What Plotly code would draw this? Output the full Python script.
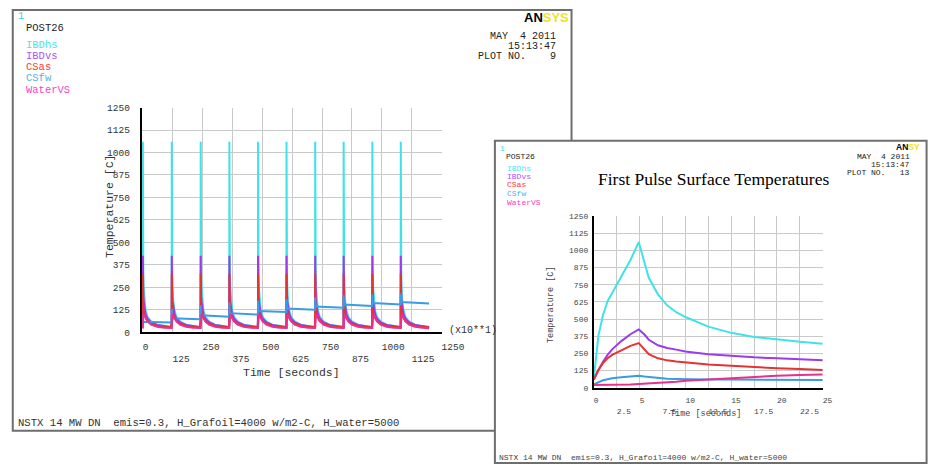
import plotly.graph_objects as go

W, H = 936, 472

# ---------------- data ----------------
series_names = ["IBDhs", "IBDvs", "CSas", "CSfw", "WaterVS"]

# first pulse (right panel), time in seconds
first_t = [0, 0.25, 0.5, 1, 1.5, 2, 3, 4, 4.9, 5.5, 6, 7, 8, 9, 10, 12.5, 15, 17.5, 20, 22.5, 25]
ibdhs_1 = [70, 250, 380, 530, 630, 690, 810, 930, 1060, 920, 800, 680, 600, 550, 515, 445, 400, 370, 350, 335, 320]
ibdvs_1 = [60, 100, 130, 190, 240, 280, 340, 390, 425, 390, 350, 310, 290, 278, 265, 245, 232, 222, 215, 208, 200]
csas_1 = [60, 100, 130, 180, 215, 240, 275, 305, 325, 280, 245, 215, 200, 192, 185, 170, 160, 150, 143, 137, 130]
csfw_1 = [25, 32, 40, 55, 63, 70, 78, 83, 88, 82, 78, 70, 66, 64, 62, 60, 60, 59, 58, 58, 58]
watervs_1 = [20, 20, 20, 21, 21, 22, 23, 25, 28, 30, 32, 35, 40, 45, 52, 62, 72, 80, 88, 94, 98]

# ten pulses (left panel), time in units of 10 s
pulse_start = [0, 121, 242, 362, 482, 601, 721, 840, 960, 1079]
tail_dt = [4, 7, 12, 20, 35, 60, 90, 119]
ibdhs_tail = [250, 170, 120, 85, 60, 42, 34, 30]
ibdvs_tail = [170, 130, 100, 75, 55, 40, 32, 28]
csas_tail = [115, 95, 78, 62, 48, 36, 30, 26]
watervs_tail = [100, 95, 80, 60, 42, 30, 25, 22]

# CSfw in the left panel, per pulse at dt = 0, 0.5, 2.5, 119
csfw_dt = [0, 0.5, 2.5, 119]
csfw_seg_start = [25, 54, 72, 86, 98, 112, 125, 136, 146, 154]
csfw_seg_peak = [88, 130, 150, 165, 175, 185, 195, 205, 210, 215]
csfw_seg_after = [58, 78, 94, 106, 118, 132, 143, 154, 162, 168]
csfw_seg_end = [54, 72, 86, 98, 112, 125, 136, 146, 154, 160]

left_ticks = [0, 125, 250, 375, 500, 625, 750, 875, 1000, 1125, 1250]
right_xticks = [0, 2.5, 5, 7.5, 10, 12.5, 15, 17.5, 20, 22.5, 25]
temp_ticks = [0, 125, 250, 375, 500, 625, 750, 875, 1000, 1125, 1250]

# ---------------- styling ----------------
colors = ["#3fe3e6", "#9b3bea", "#e53232", "#3a9be6", "#e8318f"]
label_colors = ["#40e8f0", "#b050ff", "#ff3a3a", "#5ab0e8", "#ff40c0"]
MONO = "Liberation Mono"
NB = "\u00a0"


def px(x):
    return x / W


def py(y):
    return 1 - y / H


def build(profile, tail):
    xs, ys = [], []
    for p in pulse_start:
        xs += [p + t / 10 for t in first_t] + [p + d for d in tail_dt]
        ys += list(profile) + list(tail)
    return xs, ys


fig = go.Figure()

left_profiles = [(ibdhs_1, ibdhs_tail), (ibdvs_1, ibdvs_tail), (csas_1, csas_tail)]
for (prof, tail), c in zip(left_profiles, colors[:3]):
    xs, ys = build(prof, tail)
    fig.add_trace(go.Scatter(x=xs, y=ys, mode="lines", line=dict(color=c, width=2),
                             xaxis="x", yaxis="y", showlegend=False))

# CSfw left
cx, cy = [], []
for i, p in enumerate(pulse_start):
    cx += [p + d for d in csfw_dt]
    cy += [csfw_seg_start[i], csfw_seg_peak[i], csfw_seg_after[i], csfw_seg_end[i]]
fig.add_trace(go.Scatter(x=cx, y=cy, mode="lines", line=dict(color=colors[3], width=2),
                         xaxis="x", yaxis="y", showlegend=False))
xs, ys = build(watervs_1, watervs_tail)
fig.add_trace(go.Scatter(x=xs, y=ys, mode="lines", line=dict(color=colors[4], width=2),
                         xaxis="x", yaxis="y", showlegend=False))

# right panel
for vals, c in zip([ibdhs_1, ibdvs_1, csas_1, csfw_1, watervs_1], colors):
    fig.add_trace(go.Scatter(x=first_t, y=vals, mode="lines", line=dict(color=c, width=2),
                             xaxis="x2", yaxis="y2", showlegend=False))


def stagger(vals, fmt):
    # labels start at their tick (left-aligned), odd ones on a second row
    out = []
    for i, v in enumerate(vals):
        s = fmt(v)
        s = NB * len(s) + s
        out.append(s if i % 2 == 0 else "<br>" + s)
    return out


grid = "#c9c9c9"
fig.update_layout(
    width=W, height=H, margin=dict(l=0, r=0, t=0, b=0),
    paper_bgcolor="white", plot_bgcolor="rgba(0,0,0,0)",
    xaxis=dict(domain=[px(141), px(450)], range=[-4, 1250], anchor="y",
               tickvals=left_ticks, ticktext=stagger(left_ticks, lambda v: str(v)),
               tickangle=0,
               showgrid=True, gridcolor=grid, gridwidth=1, zeroline=False,
               showline=True, linecolor="black", linewidth=2, ticks="",
               ticklabelstandoff=4, layer="below traces",
               tickfont=dict(family=MONO, size=9.5, color="#333")),
    yaxis=dict(domain=[py(335), py(105)], range=[0, 1250], anchor="x",
               tickvals=temp_ticks, ticktext=[str(v) for v in temp_ticks],
               showgrid=True, gridcolor=grid, gridwidth=1, zeroline=False,
               showline=True, linecolor="black", linewidth=2, ticks="",
               ticklabelstandoff=8, layer="below traces",
               tickfont=dict(family=MONO, size=9.5, color="#333")),
    xaxis2=dict(domain=[px(607), px(843)], range=[0, 25], anchor="y2",
                tickvals=right_xticks, ticktext=stagger(right_xticks, lambda v: ("%g" % v)),
                tickangle=0,
                showgrid=True, gridcolor=grid, gridwidth=1, zeroline=False,
                showline=True, linecolor="black", linewidth=2, ticks="",
                ticklabelstandoff=4, layer="below traces",
                tickfont=dict(family=MONO, size=8, color="#444")),
    yaxis2=dict(domain=[py(392), py(216)], range=[0, 1250], anchor="x2",
                tickvals=temp_ticks, ticktext=[str(v) for v in temp_ticks],
                showgrid=True, gridcolor=grid, gridwidth=1, zeroline=False,
                showline=True, linecolor="black", linewidth=2, ticks="",
                ticklabelstandoff=2, layer="below traces",
                tickfont=dict(family=MONO, size=8, color="#444")),
)

shapes = [
    dict(type="rect", xref="paper", yref="paper", x0=px(8), x1=px(584), y0=py(436), y1=py(5),
         line=dict(color="#6e6e6e", width=2), fillcolor="white", layer="below"),
    dict(type="rect", xref="paper", yref="paper", x0=px(505), x1=px(950), y0=py(469), y1=py(139),
         line=dict(color="#6e6e6e", width=2), fillcolor="white", layer="below"),
]
fig.update_layout(shapes=shapes)

ann = []


def text(x, y, s, size, color="#222", xanchor="left", family=MONO, angle=0, yanchor="middle"):
    ann.append(dict(x=px(x), y=py(y), xref="paper", yref="paper", text=s, showarrow=False,
                    xanchor=xanchor, yanchor=yanchor, textangle=angle,
                    font=dict(family=family, size=size, color=color)))


# ----- left window texts -----
text(11, 12, "1", 10, "#30d8e0")
text(20, 24, "POST26", 10.5)
for i, (nm, lc) in enumerate(zip(series_names, label_colors)):
    text(20, [41, 52, 63, 75, 87][i], nm, 10.5, lc)
text(570, 32, "MAY  4 2011", 10, xanchor="right")
text(570, 42.5, "15:13:47", 10, xanchor="right")
text(570, 53, "PLOT NO.    9", 10, xanchor="right")
text(533, 13, "<b>AN</b><b><span style='color:#f2e21a'>SYS</span></b>", 13, "#000",
     family="Liberation Sans")
text(107, 206, "Temperature [C]", 11.5, "#333", xanchor="center", angle=-90)
text(295, 376, "Time [seconds]", 11.5, "#333", xanchor="center")
text(456, 333, "(x10**1)", 10, "#333")
text(11, 428, "NSTX 14 MW DN  emis=0.3, H_Grafoil=4000 w/m2-C, H_water=5000", 10.6, "#333")

# ----- right window texts -----
text(508, 147, "1", 8, "#30d8e0")
text(514, 155, "POST26", 8)
for i, (nm, lc) in enumerate(zip(series_names, label_colors)):
    text(515, [167, 176, 184, 193, 202][i], nm, 8, lc)
text(730, 178, "First Pulse Surface Temperatures", 17.5, "#000", xanchor="center",
     family="Liberation Serif")
text(935, 155, "MAY  4 2011", 8, xanchor="right")
text(935, 163, "15:13:47", 8, xanchor="right")
text(935, 171, "PLOT NO.   13", 8, xanchor="right")
text(916, 145, "<b>AN</b><b><span style='color:#f2e21a'>SY</span></b>", 8.5, "#000",
     family="Liberation Sans")
text(563, 307, "Temperature [C]", 8.5, "#444", xanchor="center", angle=-90)
text(722, 419, "Time [seconds]", 8.5, "#444", xanchor="center")
text(507, 463, "NSTX 14 MW DN  emis=0.3, H_Grafoil=4000 w/m2-C, H_water=5000", 8, "#444")

fig.update_layout(annotations=ann)
fig.write_html("out.html")
